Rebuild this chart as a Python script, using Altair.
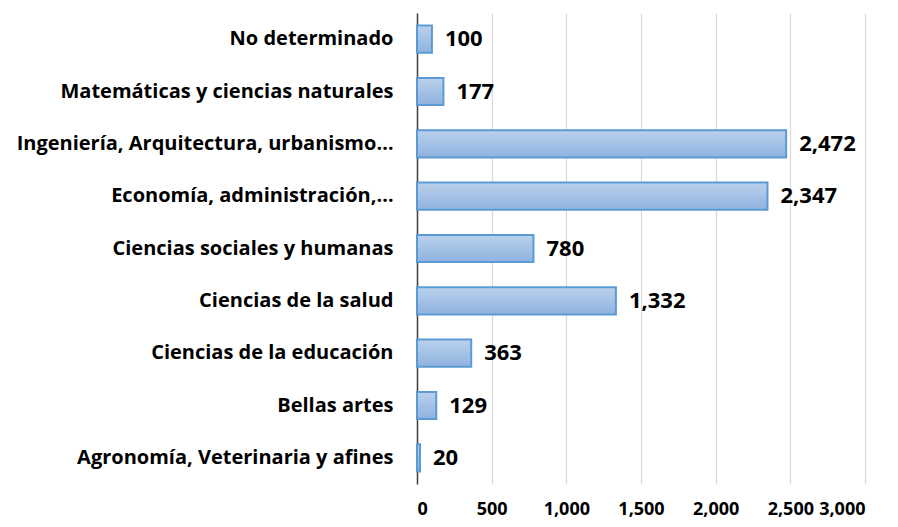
import altair as alt
import pandas as pd

categories = [
    "No determinado",
    "Matemáticas y ciencias naturales",
    "Ingeniería, Arquitectura, urbanismo…",
    "Economía, administración,…",
    "Ciencias sociales y humanas",
    "Ciencias de la salud",
    "Ciencias de la educación",
    "Bellas artes",
    "Agronomía, Veterinaria y afines",
]
values = [100, 177, 2472, 2347, 780, 1332, 363, 129, 20]
tick_values = [0, 500, 1000, 1500, 2000, 2500, 3000]

df = pd.DataFrame({"cat": categories, "val": values})

FONT = "Open Sans"

y = alt.Y("cat:N", sort=categories, title=None,
          scale=alt.Scale(paddingInner=0.48, paddingOuter=0.24),
          axis=alt.Axis(domain=True, domainColor="#404040", domainWidth=1.5,
                        ticks=False, labelPadding=24, labelFont=FONT,
                        labelFontSize=20, labelFontWeight="bold",
                        labelColor="#000000", labelLimit=500, grid=False))
x = alt.X("val:Q", title=None,
          scale=alt.Scale(domain=[0, 3000], nice=False),
          axis=alt.Axis(values=tick_values, format=",.0f", domain=False, ticks=False,
                        grid=True, gridColor="#D9D9D9", gridWidth=1.2,
                        labelPadding=16, labelFont=FONT, labelFontSize=18,
                        labelOverlap=False,
                        labelFontWeight="bold", labelColor="#000000"))

bars = alt.Chart(df).mark_bar(
    color=alt.Gradient(gradient="linear", x1=0, y1=0, x2=0, y2=1,
                       stops=[alt.GradientStop(color="#BBD1EC", offset=0),
                              alt.GradientStop(color="#8EB2DF", offset=1)]),
    stroke="#5B9BD5", strokeWidth=2,
).encode(x=x, y=y)

labels = alt.Chart(df).mark_text(
    align="left", baseline="middle", dx=13, font=FONT, fontSize=22,
    fontWeight="bold", color="#000000",
).encode(x="val:Q", y=alt.Y("cat:N", sort=categories), text=alt.Text("val:Q", format=","))

chart = (bars + labels).properties(
    width=448, height=471,
    autosize=alt.AutoSizeParams(type="none"),
    padding={"left": 409, "top": 5, "right": 25, "bottom": 35},
).configure_view(stroke=None)

chart.save("out.html", embed_options={"renderer": "svg", "actions": False})
